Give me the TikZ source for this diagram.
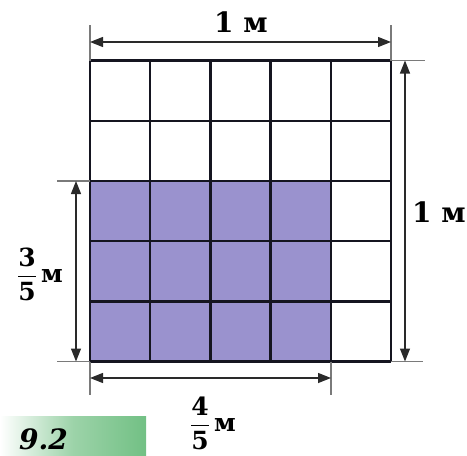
\documentclass[tikz,border=0pt]{standalone}
\usepackage{amsmath}
\usepackage{fontspec}
\setmainfont{DejaVu Serif}
\usetikzlibrary{arrows.meta}
\definecolor{lavender}{HTML}{9A92CE}
\definecolor{gridline}{HTML}{151520}
\definecolor{dimline}{HTML}{2A2A2A}
\definecolor{extline}{HTML}{7A7A7A}
\definecolor{tabgreen}{HTML}{72C084}
\tikzset{
  gridlines/.style={draw=gridline, line width=2.4pt},
  dimarrow/.style={draw=dimline, line width=1.4pt, {Triangle[length=13pt,width=10pt]}-{Triangle[length=13pt,width=10pt]}},
  extension/.style={draw=extline, line width=1.4pt},
  lbl/.style={font=\bfseries\fontsize{28}{30}\selectfont, inner sep=0pt},
  fraclbl/.style={font=\bfseries\fontsize{25}{28}\selectfont, inner sep=0pt},
}
\begin{document}
\begin{tikzpicture}[x=1pt,y=-1pt]
\useasboundingbox (0,0) rectangle (467,456);
% shaded region
\coordinate (s0) at (90,181);
\coordinate (s1) at (331,361.5);
\fill[lavender] (s0) rectangle (s1);
% grid
\foreach \i in {0,...,5} {
  \draw[gridlines] (90+60.2*\i,60.5) -- (90+60.2*\i,361.5);
  \draw[gridlines] (90,60.5+60.2*\i) -- (391,60.5+60.2*\i);
}
% top dimension
\coordinate (tl) at (90,25);
\coordinate (tr) at (391,25);
\draw[extension] (tl) -- (90,60.5);
\draw[extension] (tr) -- (391,60.5);
\coordinate (ta) at (90,42);
\coordinate (tb) at (391,42);
\draw[dimarrow] (ta) -- (tb);
\node[lbl] (toplbl) at (241,22) {1 м};
% right dimension
\draw[extension] (391,60.5) -- (425,60.5);
\draw[extension] (391,361.5) -- (423,361.5);
\coordinate (ra) at (405,60.5);
\coordinate (rb) at (405,361.5);
\draw[dimarrow] (ra) -- (rb);
\node[lbl] (rightlbl) at (439,212) {1 м};
% left dimension
\draw[extension] (57,181) -- (90,181);
\draw[extension] (57,361.5) -- (90,361.5);
\coordinate (la) at (76,181);
\coordinate (lb) at (76,361.5);
\draw[dimarrow] (la) -- (lb);
\node[fraclbl] (leftlbl) at (40,274) {$\dfrac{\text{3}}{\text{5}}\,\text{м}$};
% bottom dimension
\draw[extension] (90,361.5) -- (90,395);
\draw[extension] (331,361.5) -- (331,395);
\coordinate (ba) at (90,378);
\coordinate (bb) at (331,378);
\draw[dimarrow] (ba) -- (bb);
\node[fraclbl] (bottomlbl) at (213,423) {$\dfrac{\text{4}}{\text{5}}\,\text{м}$};
% green tab
\shade[left color=white, right color=tabgreen, middle color=tabgreen!70] (0,416) rectangle (146,456);
\node[font=\bfseries\itshape\fontsize{28}{30}\selectfont, inner sep=0pt, anchor=base west] (tab) at (19,449) {9.2};
\end{tikzpicture}
\end{document}
